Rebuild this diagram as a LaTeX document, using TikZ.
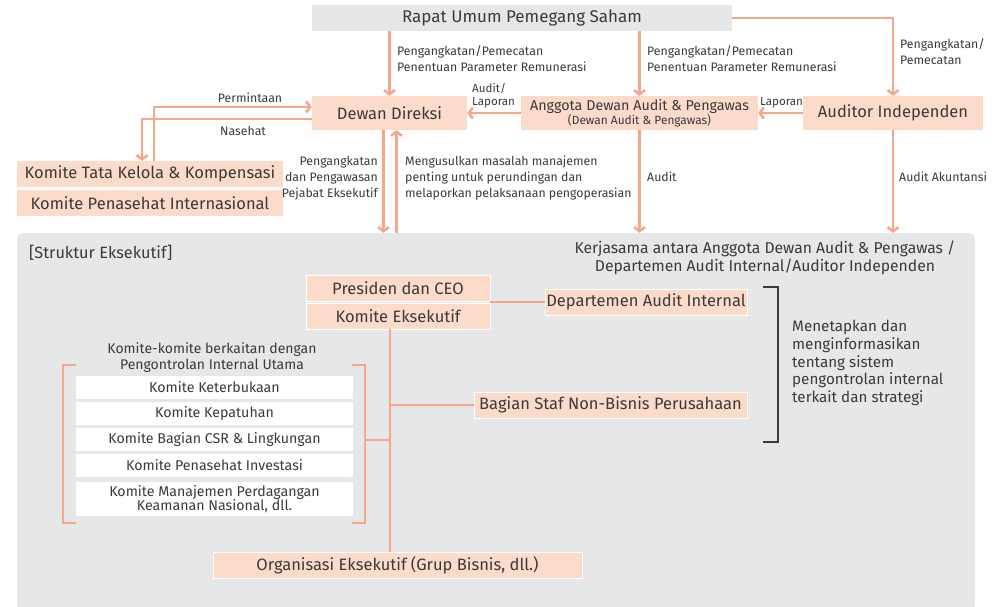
\documentclass[tikz,border=0pt]{standalone}
\usepackage{fontspec}
\setmainfont{Fira Sans}
\usetikzlibrary{arrows.meta}

\definecolor{garis}{HTML}{F6A68A}
\definecolor{isi}{HTML}{FDDBCB}
\definecolor{abu}{HTML}{E6E7E8}
\definecolor{teks}{HTML}{3A3A3A}

\begin{document}
\begin{tikzpicture}[x=1pt,y=-1pt,
    kotak/.style={fill=isi,inner sep=0pt,text=teks,font=\fontsize{16.5}{18}\selectfont},
    kotakputih/.style={kotak,draw=white,line width=0.8pt},
    komite/.style={fill=white,inner sep=0pt,text=teks,minimum width=277pt,align=center,font=\fontsize{14.2}{14.3}\selectfont},
    ket/.style={inner sep=0pt,text=teks,font=\fontsize{12.3}{16}\selectfont},
    panah/.style={draw=garis,line width=2.6pt,-{Straight Barb[length=4pt,width=11pt]}},
    garisan/.style={draw=garis,line width=2.6pt}]
    \useasboundingbox (0,0) rectangle (1003,607);
    % struktur eksekutif (latar)
    \node[fill=abu,rounded corners=7pt,minimum width=958pt,minimum height=380pt,inner sep=0pt] (struktur) at (496,423) {};
    \node[ket,anchor=west,font=\fontsize{16.3}{18}\selectfont] (judul) at (29,253) {[Struktur Eksekutif]};
    \node[ket,align=center,font=\fontsize{15.7}{18}\selectfont] (kerjasama) at (765,258) {Kerjasama antara Anggota Dewan Audit \& Pengawas /\\Departemen Audit Internal/Auditor Independen};

    % baris atas
    \node[fill=abu,inner sep=0pt,text=teks,minimum width=420pt,minimum height=26pt,font=\fontsize{17}{18}\selectfont] (rups) at (522,18) {Rapat Umum Pemegang Saham};
    \node[kotak,minimum width=155pt,minimum height=34pt] (direksi) at (389.5,113) {Dewan Direksi};
    \node[kotak,minimum width=237pt,minimum height=34pt,align=center,font=\fontsize{14.3}{16}\selectfont] (dap) at (639.5,113) {Anggota Dewan Audit \& Pengawas\\[-1.5pt]{\fontsize{11.9}{12}\selectfont(Dewan Audit \& Pengawas)}};
    \node[kotak,minimum width=180pt,minimum height=34pt] (auditor) at (893,113) {Auditor Independen};
    \node[kotak,minimum width=266pt,minimum height=26pt] (tatakelola) at (150,174) {Komite Tata Kelola \& Kompensasi};
    \node[kotak,minimum width=266pt,minimum height=26pt] (penasehat) at (150,203) {Komite Penasehat Internasional};

    % panah dari rapat
    \draw[panah] (rups.south -| direksi.north) -- (direksi.north);
    \node[ket,anchor=north west,align=left] at (397,45) {Pengangkatan/Pemecatan\\Penentuan Parameter Remunerasi};
    \draw[panah] (rups.south -| dap.north) -- (dap.north);
    \node[ket,anchor=north west,align=left] at (647,45) {Pengangkatan/Pemecatan\\Penentuan Parameter Remunerasi};
    \draw[panah] (rups.east) -| (auditor.north);
    \node[ket,anchor=north west,align=left] at (900,38) {Pengangkatan/\\Pemecatan};

    % laporan ke kiri
    \draw[panah] (dap.west) -- (direksi.east);
    \node[ket,anchor=south west,align=left,font=\fontsize{11.6}{13}\selectfont] at (472,108) {Audit/\\Laporan};
    \draw[panah] (auditor.west) -- (dap.east);
    \node[ket,anchor=south west,font=\fontsize{11.6}{13}\selectfont] at (760,108) {Laporan};

    % komite kiri
    \coordinate (mintaa) at ([yshift=-6pt]direksi.west);
    \coordinate (nasehata) at ([yshift=6pt]direksi.west);
    \draw[panah] (mintaa) -| ([xshift=-8pt]tatakelola.north);
    \node[ket] at (250,98) {Permintaan};
    \draw[panah] ([xshift=4pt]tatakelola.north) |- (nasehata);
    \node[ket] at (243,131) {Nasehat};

    % panah ke struktur eksekutif
    \draw[panah] ([xshift=-6pt]direksi.south) -- ([xshift=-6pt]direksi.south |- struktur.north);
    \draw[panah] ([xshift=7pt]direksi.south |- struktur.north) -- ([xshift=7pt]direksi.south);
    \node[ket,anchor=north east,align=right] at (378,156) {Pengangkatan\\dan Pengawasan\\Pejabat Eksekutif};
    \node[ket,anchor=north west,align=left] at (405,156) {Mengusulkan masalah manajemen\\penting untuk perundingan dan\\melaporkan pelaksanaan pengoperasian};
    \draw[panah] (dap.south) -- (dap.south |- struktur.north);
    \node[ket,anchor=west] at (647,177) {Audit};
    \draw[panah] (auditor.south) -- (auditor.south |- struktur.north);
    \node[ket,anchor=west] at (899,177) {Audit Akuntansi};

    % di dalam struktur
    \node[kotakputih,minimum width=184pt,minimum height=26pt] (presiden) at (398,288) {Presiden dan CEO};
    \node[kotakputih,minimum width=184pt,minimum height=26pt] (eksekutif) at (398,316) {Komite Eksekutif};
    \node[kotakputih,minimum width=202pt,minimum height=26pt] (dai) at (646,302) {Departemen Audit Internal};
    \node[kotakputih,minimum width=273pt,minimum height=26pt] (staf) at (610.5,405) {Bagian Staf Non-Bisnis Perusahaan};
    \node[kotakputih,minimum width=369pt,minimum height=26pt] (organisasi) at (397.5,565) {Organisasi Eksekutif (Grup Bisnis, dll.)};
    \draw[garisan] (dai.west) -- (dai.west -| presiden.east);

    % tulang tengah
    \coordinate (tulangatas) at (390,329);
    \draw[garisan] (tulangatas) -- (tulangatas |- organisasi.north);
    \draw[garisan] (tulangatas |- staf.west) -- (staf.west);

    % komite pengontrolan internal
    \node[ket,align=center,font=\fontsize{14}{16}\selectfont] (komitejudul) at (212,358) {Komite-komite berkaitan dengan\\Pengontrolan Internal Utama};
    \node[komite,minimum height=23pt] (k1) at (214.5,387.5) {Komite Keterbukaan};
    \node[komite,minimum height=23pt] (k2) at (214.5,413.5) {Komite Kepatuhan};
    \node[komite,minimum height=23pt] (k3) at (214.5,439.5) {Komite Bagian CSR \& Lingkungan};
    \node[komite,minimum height=23pt] (k4) at (214.5,465.5) {Komite Penasehat Investasi};
    \node[komite,minimum height=34pt] (k5) at (214.5,499) {Komite Manajemen Perdagangan\\Keamanan Nasional, dll.};
    \draw[garisan] (76,365) -- (63,365) -- (63,523) -- (76,523);
    \draw[garisan] (352,365) -- (365,365) -- (365,523) -- (352,523);
    \coordinate (kurungkanan) at (365,440);
    \draw[garisan] (kurungkanan) -- (kurungkanan -| tulangatas);

    % kurung kanan
    \draw[teks,line width=1.3pt] (763,287) -- (778,287) -- (778,442) -- (763,442);
    \node[ket,anchor=north west,align=left,font=\fontsize{15.2}{17.7}\selectfont] (menetapkan) at (792,320) {Menetapkan dan\\menginformasikan\\tentang sistem\\pengontrolan internal\\terkait dan strategi};
\end{tikzpicture}
\end{document}
